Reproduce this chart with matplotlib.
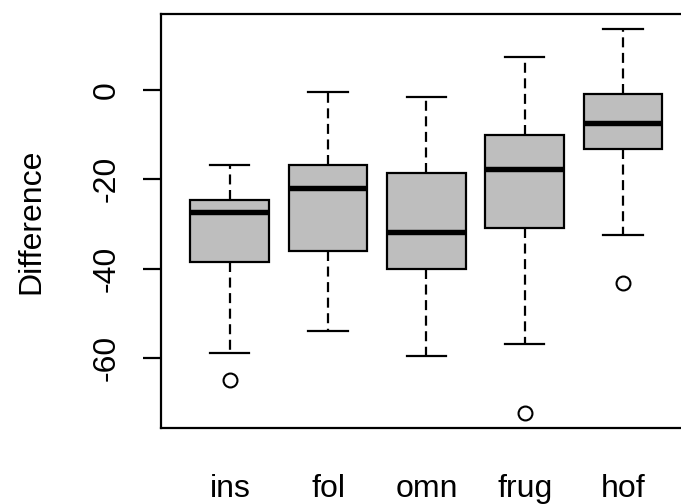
import matplotlib
matplotlib.use("Agg")
import matplotlib.pyplot as plt

plt.rcParams['font.family'] = ['Liberation Sans', 'DejaVu Sans']

# box statistics
groups = ["ins", "fol", "omn", "frug", "hof"]
whis_hi = [-16.8, -0.5, -1.6, 7.4, 13.6]
q3 = [-24.6, -16.8, -18.6, -10.0, -0.9]
medians = [-27.3, -21.9, -31.8, -17.8, -7.4]
q1 = [-38.5, -36.1, -40.1, -30.9, -13.3]
whis_lo = [-58.9, -54.0, -59.5, -57.0, -32.4]
outliers = [[-64.9], [], [], [-72.3], [-43.2]]

stats = []
for i in range(len(groups)):
    stats.append(dict(label=groups[i], med=medians[i], q1=q1[i], q3=q3[i],
                      whislo=whis_lo[i], whishi=whis_hi[i], fliers=outliers[i]))

fig = plt.figure(figsize=(6.81, 5.04), dpi=100)
W, H = 681, 504
ax = fig.add_axes([161 / W, (H - 428) / H, (692 - 161) / W, (428 - 14) / H])

lw = 1.6
ax.bxp(stats, positions=range(1, 6), widths=0.8, patch_artist=True,
       boxprops=dict(facecolor="#BEBEBE", edgecolor="black", linewidth=lw),
       medianprops=dict(color="black", linewidth=3.9, solid_capstyle="butt"),
       whiskerprops=dict(color="black", linewidth=lw, linestyle=(0, (4.5, 2.5))),
       capprops=dict(color="black", linewidth=lw),
       flierprops=dict(marker="o", markerfacecolor="none", markeredgecolor="black",
                       markersize=10, markeredgewidth=1.5),
       capwidths=0.4)

# R-style 4% extension of axis ranges
lo = min(min(whis_lo), min(min(o) for o in outliers if o))
hi = max(whis_hi)
ext = 0.04 * (hi - lo)
ax.set_ylim(lo - ext, hi + ext)
ax.set_xlim(0.3, 5.7)

ax.set_yticks([0, -20, -40, -60])
ax.set_yticklabels(["0", "-20", "-40", "-60"], rotation=90, va="center")
ax.tick_params(axis="y", length=13, width=lw, pad=15, labelsize=23)
ax.tick_params(axis="x", length=0, pad=33, labelsize=23)
ax.set_xticks(range(1, 6))
ax.set_xticklabels(groups)

for s in ax.spines.values():
    s.set_linewidth(lw)

ax.set_ylabel("Difference", fontsize=23)
ax.yaxis.set_label_coords(-0.215, 0.5)

fig.savefig("out.png", dpi=100)
